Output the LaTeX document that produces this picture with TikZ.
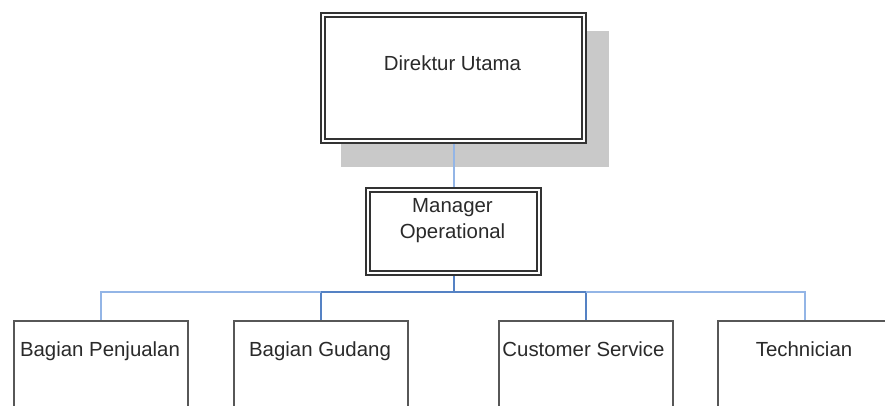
\documentclass[tikz,border=0pt]{standalone}
\usepackage{fontspec}
\setmainfont{Liberation Sans}
\usetikzlibrary{backgrounds}
\definecolor{boxline}{HTML}{333333}
\definecolor{plainline}{HTML}{575757}
\definecolor{shadowgray}{HTML}{C9C9C9}
\definecolor{linklight}{HTML}{93B5E6}
\definecolor{linkdark}{HTML}{5582C4}
\definecolor{ink}{HTML}{2A2A2A}
\tikzset{
  doublebox/.style={draw=boxline, fill=white, line width=1.9pt, double=white,
    double distance=2.2pt, inner sep=0pt},
  unitbox/.style={draw=plainline, fill=white, line width=2pt, inner sep=0pt,
    minimum width=174pt, minimum height=120pt},
  lbl/.style={inner sep=0pt, text=ink, font=\fontsize{20.4}{26}\selectfont},
  linkL/.style={draw=linklight, line width=2pt},
  linkD/.style={draw=linkdark, line width=2pt},
}
\begin{document}
\begin{tikzpicture}[x=1pt, y=-1pt]
\useasboundingbox (0,0) rectangle (885,405);

% boxes
\node[doublebox, minimum width=261pt, minimum height=126pt] (dir) at (453.5,78) {};
\node[doublebox, minimum width=171pt, minimum height=83pt] (mgr) at (453.5,231.5) {};
\node[unitbox] (b1) at (101,381) {};
\node[unitbox] (b2) at (321,381) {};
\node[unitbox] (b3) at (585.5,381) {};
\node[unitbox] (b4) at (805,381) {};

% labels
\node[lbl, anchor=base] (dirtext) at ([shift={(-1,56)}]dir.north) {Direktur Utama};
\node[lbl, anchor=north, align=center] (mgrtext) at ([shift={(-1,9)}]mgr.north) {Manager\\Operational};
\node[lbl, anchor=base] (t1) at ([shift={(-1,36)}]b1.north) {Bagian Penjualan};
\node[lbl, anchor=base] (t2) at ([shift={(-1,36)}]b2.north) {Bagian Gudang};
\node[lbl, anchor=base] (t3) at ([shift={(-2,36)}]b3.north) {Customer Service};
\node[lbl, anchor=base] (t4) at ([shift={(-1,36)}]b4.north) {Technician};

\begin{scope}[on background layer]
  \fill[white] (0,0) rectangle (885,405);
  % drop shadow of the top box
  \fill[shadowgray] ([shift={(19,17)}]dir.north west) rectangle ([shift={(24,25)}]dir.south east);
  % connectors
  \coordinate (hub) at ([shift={(0,18.5)}]mgr.south);
  \draw[linkL] (dir.south) -- (mgr.north);
  \draw[linkD] (mgr.south) -- (hub);
  \draw[linkD] (hub) -| (b2.north);
  \draw[linkD] (hub) -| (b3.north);
  \draw[linkL] (hub -| b2.north) -| (b1.north);
  \draw[linkL] (hub -| b3.north) -| (b4.north);
\end{scope}
\end{tikzpicture}
\end{document}
